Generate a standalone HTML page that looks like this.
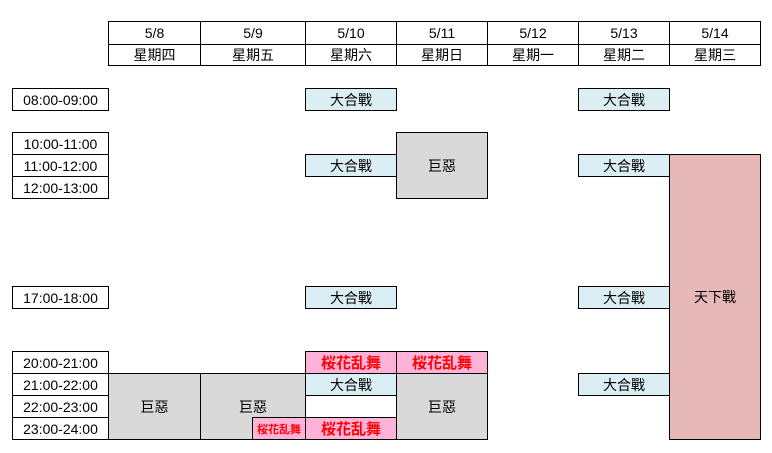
<!DOCTYPE html><html><head><meta charset="utf-8"><style>
body{margin:0;width:772px;height:453px;background:#fff;position:relative;overflow:hidden;font-family:"Liberation Sans","Noto Sans CJK TC",sans-serif;font-size:14px;color:#000}
.b{position:absolute;box-sizing:border-box;border:1px solid #000;display:flex;align-items:center;justify-content:center;white-space:nowrap}
.bl{background:#daeef3}.g{background:#d9d9d9}.p{background:#ffb3d9;color:#f00;font-weight:bold;font-size:15px}.r{background:#e6b8b7}
.s{font-size:11px}
</style></head><body>
<!-- header -->
<div class="b" style="left:108px;top:21px;width:93px;height:24px">5/8</div>
<div class="b" style="left:200px;top:21px;width:106px;height:24px">5/9</div>
<div class="b" style="left:305px;top:21px;width:92px;height:24px">5/10</div>
<div class="b" style="left:396px;top:21px;width:92px;height:24px">5/11</div>
<div class="b" style="left:487px;top:21px;width:92px;height:24px">5/12</div>
<div class="b" style="left:578px;top:21px;width:92px;height:24px">5/13</div>
<div class="b" style="left:669px;top:21px;width:92px;height:24px">5/14</div>
<div class="b" style="left:108px;top:44px;width:93px;height:22px">星期四</div>
<div class="b" style="left:200px;top:44px;width:106px;height:22px">星期五</div>
<div class="b" style="left:305px;top:44px;width:92px;height:22px">星期六</div>
<div class="b" style="left:396px;top:44px;width:92px;height:22px">星期日</div>
<div class="b" style="left:487px;top:44px;width:92px;height:22px">星期一</div>
<div class="b" style="left:578px;top:44px;width:92px;height:22px">星期二</div>
<div class="b" style="left:669px;top:44px;width:92px;height:22px">星期三</div>
<!-- times -->
<div class="b" style="left:12px;top:88px;width:97px;height:23px">08:00-09:00</div>
<div class="b" style="left:12px;top:132px;width:97px;height:23px">10:00-11:00</div>
<div class="b" style="left:12px;top:154px;width:97px;height:23px">11:00-12:00</div>
<div class="b" style="left:12px;top:176px;width:97px;height:23px">12:00-13:00</div>
<div class="b" style="left:12px;top:286px;width:97px;height:23px">17:00-18:00</div>
<div class="b" style="left:12px;top:351px;width:97px;height:23px">20:00-21:00</div>
<div class="b" style="left:12px;top:373px;width:97px;height:23px">21:00-22:00</div>
<div class="b" style="left:12px;top:395px;width:97px;height:23px">22:00-23:00</div>
<div class="b" style="left:12px;top:417px;width:97px;height:23px">23:00-24:00</div>
<!-- 5/10 -->
<div class="b bl" style="left:305px;top:88px;width:92px;height:23px">大合戰</div>
<div class="b bl" style="left:305px;top:154px;width:92px;height:23px">大合戰</div>
<div class="b bl" style="left:305px;top:286px;width:92px;height:23px">大合戰</div>
<div class="b p" style="left:305px;top:351px;width:92px;height:23px">桜花乱舞</div>
<div class="b bl" style="left:305px;top:373px;width:92px;height:23px">大合戰</div>
<div class="b" style="left:305px;top:395px;width:92px;height:23px"></div>
<div class="b p" style="left:305px;top:417px;width:92px;height:23px">桜花乱舞</div>
<!-- 5/11 -->
<div class="b g" style="left:396px;top:132px;width:92px;height:67px">巨惡</div>
<div class="b p" style="left:396px;top:351px;width:92px;height:23px">桜花乱舞</div>
<div class="b g" style="left:396px;top:373px;width:92px;height:67px">巨惡</div>
<!-- 5/8, 5/9 -->
<div class="b g" style="left:108px;top:373px;width:93px;height:67px">巨惡</div>
<div class="b g" style="left:200px;top:373px;width:106px;height:67px">巨惡</div>
<div class="b p s" style="left:252px;top:417px;width:54px;height:23px">桜花乱舞</div>
<!-- 5/13 -->
<div class="b bl" style="left:578px;top:88px;width:92px;height:23px">大合戰</div>
<div class="b bl" style="left:578px;top:154px;width:92px;height:23px">大合戰</div>
<div class="b bl" style="left:578px;top:286px;width:92px;height:23px">大合戰</div>
<div class="b bl" style="left:578px;top:373px;width:92px;height:23px">大合戰</div>
<!-- 5/14 -->
<div class="b r" style="left:669px;top:154px;width:92px;height:286px">天下戰</div>
</body></html>
